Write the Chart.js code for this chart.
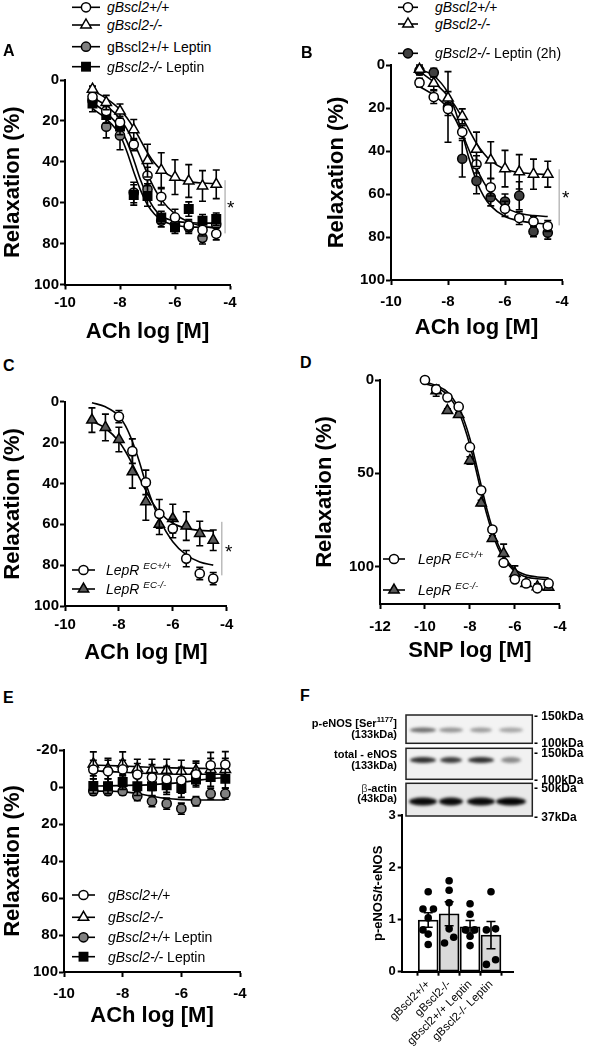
<!DOCTYPE html>
<html>
<head>
<meta charset="utf-8">
<script src="https://cdn.jsdelivr.net/npm/chart.js@4.4.1/dist/chart.umd.min.js"></script>
<style>
  body { margin: 0; width: 591px; height: 1050px; position: relative; background: #fff; overflow: hidden;
         font-family: 'Liberation Sans', Arial, sans-serif; color: #000; }
  canvas { position: absolute; }
  .t { position: absolute; white-space: nowrap; line-height: 1; transform: translateY(-50%); }
  .r { transform: translate(-100%, -50%); text-align: right; }
  .letter { font-weight: bold; font-size: 16px; }
  .star { font-size: 19px; }
  .leg { font-size: 14px; }
  .blotl { font-weight: bold; font-size: 11px; }
  .kda { font-weight: bold; font-size: 12px; }
  sup { font-size: 70%; line-height: 0; }
  svg { position: absolute; overflow: visible; }
</style>
</head>
<body>
<canvas id="chartA" width="245" height="275" style="left:0;top:70px"></canvas>
<canvas id="chartB" width="253" height="286" style="left:324px;top:55px"></canvas>
<canvas id="chartC" width="242" height="276" style="left:0;top:390px"></canvas>
<canvas id="chartD" width="263" height="294" style="left:312px;top:370px"></canvas>
<canvas id="chartE" width="255" height="289" style="left:0;top:740px"></canvas>
<canvas id="chartF" width="150" height="245" style="left:371px;top:805px"></canvas>
<canvas id="blot" width="140" height="112" style="left:400px;top:710px"></canvas>
<div id="labels"></div>

<script>
// ---- Panel A : ACh, gBscl2 +/- leptin ----
const dosesA = [-9, -8.5, -8, -7.5, -7, -6.5, -6, -5.5, -5, -4.5];
const wtA = [8.2, 15.2, 20.7, 31.6, 46.7, 57.1, 67.2, 71.2, 73.3, 75.2];
const wtErrA = [3, 3, 3, 3, 4, 4, 4, 3, 3, 3];
const koA = [4.5, 11, 15.2, 24.3, 39.4, 44.1, 47.5, 49.4, 51.8, 51];
const koErrA = [1.5, 3.5, 3.5, 5, 8, 8.5, 8.5, 8, 7.5, 7];
const wtLepA = [10, 22.8, 27.1, 55, 53.4, 68.8, 70.7, 72, 77.2, 70.7];
const wtLepErrA = [3, 5.5, 7, 5, 5, 3, 3, 3, 3, 3];
const koLepA = [11.5, 17.1, 22.8, 56.2, 56.7, 67.2, 72, 63.1, 68.8, 68];
const koLepErrA = [4, 4, 4, 5, 5, 3, 3, 3.5, 3, 3];

// fitted curves
const fitX = [-9, -8.5, -8, -7.75, -7.5, -7.25, -7, -6.75, -6.5, -6, -5.5, -5, -4.5];
const wtFitA = [8.5, 12.5, 19, 24, 30.5, 38, 46, 53, 58.5, 65.5, 69.5, 71.5, 72.5];
const koFitA = [5, 9, 14.5, 18.5, 23.5, 29.5, 35.5, 40.5, 44, 48, 49.7, 50.4, 50.7];
const wtLepFitA = [14, 19, 27, 35, 45, 54, 61, 65.5, 68.5, 71, 71.8, 72, 72];
const koLepFitA = [11, 16, 23.5, 30, 39, 49, 57, 63, 66.5, 69, 69.7, 70, 70];

// ---- Panel B : ACh, leptin 2h ----
const dosesB = [-9, -8.5, -8, -7.5, -7, -6.5, -6, -5.5, -5, -4.5];
const wtB = [8.2, 14.9, 20.5, 31.2, 46.2, 56.9, 66.9, 71.2, 72.8, 74.9];
const wtErrB = [2, 3, 3, 3, 4, 4, 3.5, 3, 2.5, 2.5];
const koB = [2, 8.5, 15.4, 23.9, 39.2, 44.2, 48.2, 49.7, 50.8, 50.8];
const koErrB = [2, 3, 3, 3.5, 8, 8.5, 8.5, 8, 7, 6];
const koLepB = [2.6, 3.5, 19.5, 43.6, 53.9, 61.5, 63.5, 60.8, 77.4, 78];
const koLepErrB = [2, 2, 16.4, 8.5, 6, 4, 3.5, 6.5, 2.5, 3];
const wtFitB = [10, 14, 20, 25, 32, 40, 48, 54.5, 59.5, 66, 69, 70, 70.5];
const koFitB = [3, 8, 14.5, 19, 24.5, 30.5, 36.5, 41, 44.5, 48.5, 50, 50.6, 51];
const koLepFitB = [2, 5, 13, 21, 32, 44, 54, 61, 65.5, 70.5, 72.5, 73.5, 74];

// ---- Panel C : ACh, LepR EC ----
const dosesC = [-9, -8.5, -8, -7.5, -7, -6.5, -6, -5.5, -5, -4.5];
const ecWtC = [null, null, 7.3, 24.2, 39.5, 54.9, 62.1, 76.8, 84.1, 86.6];
const ecWtErrC = [null, null, 3, 6, 6, 7, 4.5, 4, 3, 3];
const ecKoC = [9, 12.6, 18.5, 34.3, 49, 60, 57.2, 60.9, 64.5, 67.8];
const ecKoErrC = [6, 6.5, 6, 8, 9, 5, 7, 7, 6, 5];
const ecWtFitC = [0.5, 2.5, 7, 12, 19.5, 29, 40, 49.5, 57.5, 68.5, 75, 78.5, 80];
const ecKoFitC = [9.5, 13, 19.5, 24.5, 30.5, 37, 43.5, 49.5, 54, 59.5, 62, 63, 63.3];

// ---- Panel D : SNP, LepR EC ----
const dosesD = [-10, -9.5, -9, -8.5, -8, -7.5, -7, -6.5, -6, -5.5, -5, -4.5];
const ecWtD = [0, 5, 9.3, 14.3, 36, 59.1, 80.1, 97.9, 106.8, 109, 111.6, 109];
const ecWtErrD = [1, 1, 1, 1.5, 1.5, 1.5, 1.5, 1.5, 1.5, 1.5, 1.5, 1.5];
const ecKoD = [null, 5.7, 16.4, 18.5, 43.1, 65.9, 84.9, 92.9, 103.6, 109, 110.7, 111];
const ecKoErrD = [null, 3, 1, 1, 2, 1.5, 1.5, 5, 4, 1.5, 1.5, 1.5];
const fitXD = [-10, -9.5, -9, -8.5, -8.25, -8, -7.75, -7.5, -7.25, -7, -6.75, -6.5, -6, -5.5, -5, -4.5];
const ecWtFitD = [1, 3, 6.5, 15, 22, 31.5, 43.5, 56.5, 69, 79.5, 88, 94, 101.5, 104.5, 105.5, 106];
const ecKoFitD = [2, 4, 8, 17, 25, 35, 47, 60, 72, 82, 90, 95.5, 102.5, 105.5, 106.5, 107];

// ---- Panel E : ACh, endothelium-denuded ----
const dosesE = [-9, -8.5, -8, -7.5, -7, -6.5, -6, -5.5, -5, -4.5];
const wtE = [-9.4, -8.5, -9.5, -6.7, -5.1, -4.2, -3.6, -6.9, -11.7, -12.1];
const wtErrE = [5, 6, 5, 6, 7, 7, 7, 6, 7, 7];
const koE = [-12.5, -10, -12.5, -10, -9.5, -9, -8.5, -9, -9.5, -9.5];
const koErrE = [6.5, 5.5, 6.5, 5, 5.5, 6, 6, 5, 6, 6];
const wtLepE = [2.3, 2.3, 2.3, 4.9, 7.7, 9, 11.7, 7.7, 3.6, 3.6];
const wtLepErrE = [2, 2, 2, 2.5, 3, 3, 3, 2.5, 3, 3];
const koLepE = [-0.5, -0.4, -2.7, -0.4, -0.4, -1, 0.6, -4, -5.4, -4.5];
const koLepErrE = [4, 4, 4, 5, 5, 5, 5, 4, 5, 5];
const wtFitE = [-8.8, -8.4, -8, -7.6, -7.2, -7, -6.9, -6.9, -6.9, -6.9];
const koFitE = [-11.8, -11.6, -11.3, -11, -10.6, -10.4, -10.2, -10.1, -10, -10];
const wtLepFitE = [2.2, 2.3, 2.5, 3.5, 5, 6.2, 6.8, 7, 7, 7];
const koLepFitE = [-0.5, -0.6, -0.8, -1, -1.3, -1.8, -2.5, -3.5, -4.5, -5];

// ---- Panel F : p-eNOS / t-eNOS ----
const groupsF = ['gBscl2+/+', 'gBscl2-/-', 'gBscl2+/+ Leptin', 'gBscl2-/- Leptin'];
const meanF = [0.99, 1.11, 0.86, 0.70];
const semF = [0.14, 0.23, 0.12, 0.26];
const pointsF = [
  [1.53, 1.2, 1.2, 1.03, 0.8, 0.72, 0.52],
  [1.74, 1.56, 1.32, 0.82, 0.66, 0.55],
  [1.3, 1.1, 0.8, 0.8, 0.68, 0.5],
  [1.53, 0.8, 0.82, 0.14, 0.23]
];
const jitterF = [
  [0, -0.25, 0.25, 0, -0.25, 0, 0],
  [0, 0, 0, 0, 0.22, -0.22],
  [0, 0, -0.22, 0.22, 0, 0],
  [0, -0.22, 0.22, -0.22, 0.22]
];

const doseTicks = [-10, -8, -6, -4];
const snpTicks = [-12, -10, -8, -6, -4];
const relaxTicks = [0, 20, 40, 60, 80, 100];
const relaxTicksD = [0, 50, 100];
const relaxTicksE = [-20, 0, 20, 40, 60, 80, 100];
const ratioTicks = [0, 1, 2, 3];

Chart.defaults.font.family = "'Liberation Sans', Arial, sans-serif";
Chart.defaults.color = '#000';
Chart.defaults.animation = false;
Chart.defaults.plugins.legend.display = false;
Chart.defaults.plugins.tooltip.enabled = false;

// error bars: under the markers for scatter series, over the bars for bar series
function drawErrors(chart, index) {
  const ds = chart.data.datasets[index];
  if (!ds.errs) return;
  const {ctx, scales: {x, y}} = chart;
  const cap = ds.capHalf || 3.5;
  ctx.save();
  ctx.strokeStyle = '#000';
  ctx.lineWidth = 1.6;
  ds.data.forEach((pt, i) => {
    const e = ds.errs[i];
    if (pt.y == null || e == null) return;
    const px = x.getPixelForValue(pt.x);
    const y1 = y.getPixelForValue(pt.y - e);
    const y2 = y.getPixelForValue(pt.y + e);
    ctx.beginPath();
    ctx.moveTo(px, y1); ctx.lineTo(px, y2);
    ctx.moveTo(px - cap, y1); ctx.lineTo(px + cap, y1);
    ctx.moveTo(px - cap, y2); ctx.lineTo(px + cap, y2);
    ctx.stroke();
  });
  ctx.restore();
}
const errorBars = {
  id: 'errorBars',
  beforeDatasetDraw(chart, args) {
    if (args.meta.type !== 'bar') drawErrors(chart, args.index);
  },
  afterDatasetDraw(chart, args) {
    if (args.meta.type === 'bar') drawErrors(chart, args.index);
  }
};

// thin grey significance line
const sigLine = {
  id: 'sigLine',
  afterDatasetsDraw(chart, args, opts) {
    if (opts.x === undefined) return;
    const {ctx, scales: {x, y}} = chart;
    const px = x.getPixelForValue(opts.x);
    ctx.save();
    ctx.strokeStyle = '#999';
    ctx.lineWidth = 1;
    ctx.beginPath();
    ctx.moveTo(px, y.getPixelForValue(opts.y1));
    ctx.lineTo(px, y.getPixelForValue(opts.y2));
    ctx.stroke();
    ctx.restore();
  }
};

const STYLES = {
  open: {pointStyle: 'circle', pointRadius: 4.6, backgroundColor: '#fff'},
  tri: {pointStyle: 'triangle', pointRadius: 6, backgroundColor: '#fff'},
  grey: {pointStyle: 'circle', pointRadius: 4.6, backgroundColor: '#808080'},
  dark: {pointStyle: 'circle', pointRadius: 4.6, backgroundColor: '#404040'},
  greyTri: {pointStyle: 'triangle', pointRadius: 6, backgroundColor: '#595959'},
  square: {pointStyle: 'rect', pointRadius: 6, backgroundColor: '#000'}
};

function axisBase(min, max, ticks, size, pad) {
  return {
    type: 'linear', min, max,
    afterBuildTicks: s => { s.ticks = ticks.map(v => ({value: v})); },
    border: {display: true, color: '#000', width: 2},
    grid: {display: true, drawOnChartArea: false, tickLength: 5, tickWidth: 2, tickColor: '#000'},
    ticks: {font: {size, weight: 'bold'}, padding: pad, autoSkip: false, maxRotation: 0}
  };
}

function curvePanel(id, p) {
  const datasets = [];
  p.fits.forEach(f => datasets.push({
    data: p.fitX.map((x, i) => ({x, y: f[i]})),
    showLine: true, pointRadius: 0, borderColor: '#000', borderWidth: 1.6,
    cubicInterpolationMode: 'monotone', order: 20, clip: false
  }));
  p.series.forEach(s => datasets.push(Object.assign({
    data: p.doses.map((x, i) => ({x, y: s.y[i]})),
    errs: s.err, showLine: false, borderColor: '#000', pointBorderWidth: 1.5,
    order: s.order, clip: false
  }, STYLES[s.style])));

  const x = axisBase(p.xMin, p.xMax, p.xTicks, 15, p.xPad);
  x.afterFit = s => { s.height = p.xh; };
  x.title = {display: true, text: p.xTitle, font: {size: 22, weight: 'bold'}, padding: 0};
  const y = axisBase(p.yMin, p.yMax, p.yTicks, 15, 1);
  y.reverse = true;
  y.afterFit = s => { s.width = p.yw; };
  y.title = {display: true, text: 'Relaxation (%)', font: {size: 22, weight: 'bold'}, padding: 0};

  new Chart(document.getElementById(id), {
    type: 'scatter',
    data: {datasets},
    options: {
      responsive: false,
      layout: {padding: {top: p.padTop, right: p.padRight, left: 0, bottom: 0}},
      scales: {x, y},
      plugins: {sigLine: p.sig || {}}
    },
    plugins: [errorBars, sigLine]
  });
}

curvePanel('chartA', {
  doses: dosesA, fitX: fitX, xMin: -10, xMax: -4, xTicks: doseTicks, yMin: 0, yMax: 100, yTicks: relaxTicks,
  xTitle: 'ACh log [M]', padTop: 8, padRight: 15, yw: 65, xh: 60.5, xPad: 4.5,
  fits: [wtFitA, koFitA, wtLepFitA, koLepFitA],
  series: [
    {y: koA, err: koErrA, style: 'tri', order: 1},
    {y: wtA, err: wtErrA, style: 'open', order: 2},
    {y: koLepA, err: koLepErrA, style: 'square', order: 3},
    {y: wtLepA, err: wtLepErrA, style: 'grey', order: 4}
  ],
  sig: {x: -4.18, y1: 49, y2: 75}
});

curvePanel('chartB', {
  doses: dosesB, fitX: fitX, xMin: -10, xMax: -4, xTicks: doseTicks, yMin: 0, yMax: 100, yTicks: relaxTicks,
  xTitle: 'ACh log [M]', padTop: 8.3, padRight: 15, yw: 67, xh: 61, xPad: 7.5,
  fits: [wtFitB, koFitB, koLepFitB],
  series: [
    {y: koB, err: koErrB, style: 'tri', order: 1},
    {y: wtB, err: wtErrB, style: 'open', order: 2},
    {y: koLepB, err: koLepErrB, style: 'dark', order: 3}
  ],
  sig: {x: -4.1, y1: 48.5, y2: 74.6}
});

curvePanel('chartC', {
  doses: dosesC, fitX: fitX, xMin: -10, xMax: -4, xTicks: doseTicks, yMin: 0, yMax: 100, yTicks: relaxTicks,
  xTitle: 'ACh log [M]', padTop: 11.7, padRight: 15.3, yw: 65, xh: 60, xPad: 5,
  fits: [ecWtFitC, ecKoFitC],
  series: [
    {y: ecWtC, err: ecWtErrC, style: 'open', order: 1},
    {y: ecKoC, err: ecKoErrC, style: 'greyTri', order: 2}
  ],
  sig: {x: -4.18, y1: 58.8, y2: 85}
});

curvePanel('chartD', {
  doses: dosesD, fitX: fitXD, xMin: -12, xMax: -4, xTicks: snpTicks, yMin: 0, yMax: 120, yTicks: relaxTicksD,
  xTitle: 'SNP log [M]', padTop: 9.3, padRight: 15, yw: 68, xh: 60, xPad: 8.5,
  fits: [ecWtFitD, ecKoFitD],
  series: [
    {y: ecWtD, err: ecWtErrD, style: 'open', order: 1},
    {y: ecKoD, err: ecKoErrD, style: 'greyTri', order: 2}
  ]
});

curvePanel('chartE', {
  doses: dosesE, fitX: dosesE, xMin: -10, xMax: -4, xTicks: doseTicks, yMin: -20, yMax: 100, yTicks: relaxTicksE,
  xTitle: 'ACh log [M]', padTop: 10, padRight: 15, yw: 64, xh: 57, xPad: 7.5,
  fits: [wtFitE, koFitE, wtLepFitE, koLepFitE],
  series: [
    {y: wtE, err: wtErrE, style: 'open', order: 1},
    {y: koE, err: koErrE, style: 'tri', order: 2},
    {y: koLepE, err: koLepErrE, style: 'square', order: 3},
    {y: wtLepE, err: wtLepErrE, style: 'grey', order: 4}
  ]
});

// Panel F bar chart
(function () {
  const x = axisBase(-0.6, 3.4, [0, 1, 2, 3], 11.5, 2);
  x.afterFit = s => { s.height = 78.3; };
  x.ticks.font = {size: 11.5, weight: 'normal'};
  x.ticks.minRotation = 45;
  x.ticks.maxRotation = 45;
  x.ticks.callback = v => groupsF[v];
  x.grid.tickLength = 4;
  const y = axisBase(0, 3, ratioTicks, 13, 2);
  y.grid.tickLength = 4;
  y.afterFit = s => { s.width = 30.7; };
  y.title = {display: true, text: 'p-eNOS/t-eNOS', font: {size: 13, weight: 'bold'}, padding: 0};

  const dots = [];
  pointsF.forEach((g, k) => g.forEach((v, j) => dots.push({x: k + jitterF[k][j], y: v})));

  new Chart(document.getElementById('chartF'), {
    type: 'bar',
    data: {
      datasets: [
        {type: 'scatter', data: dots, pointRadius: 3.8, backgroundColor: '#000', borderColor: '#000',
         borderWidth: 0, order: 0, clip: false},
        {data: meanF.map((v, i) => ({x: i, y: v})), errs: semF, capHalf: 4.5, barThickness: 20,
         backgroundColor: ['#fff', '#d9d9d9', '#fff', '#d9d9d9'], borderColor: '#000', borderWidth: 1.8,
         borderSkipped: false, order: 1}
      ]
    },
    options: {
      responsive: false,
      layout: {padding: {top: 10, right: 7.7, left: 0, bottom: 0}},
      scales: {x, y}
    },
    plugins: [errorBars]
  });
})();

// western blot picture
(function () {
  const ctx = document.getElementById('blot').getContext('2d');
  const lanes = [23, 51, 81, 111];
  const boxes = [
    {y: 5, h: 28.3, bg: '#f3f3f3', cy: 20, bw: [13, 12, 11, 12], bh: 5, shades: ['#6e6e6e', '#949494', '#9c9c9c', '#a5a5a5']},
    {y: 38.3, h: 31, bg: '#f1f1f1', cy: 50, bw: [13, 11, 13, 10], bh: 6, shades: ['#2e2e2e', '#3c3c3c', '#2e2e2e', '#8a8a8a']},
    {y: 73.3, h: 32.7, bg: '#e9e9e9', cy: 91.5, bw: [14, 12, 14, 15], bh: 8, shades: ['#0a0a0a', '#0a0a0a', '#0a0a0a', '#050505']}
  ];
  boxes.forEach(b => {
    ctx.fillStyle = b.bg;
    ctx.fillRect(6, b.y, 126.3, b.h);
    ctx.save();
    ctx.beginPath(); ctx.rect(6, b.y, 126.3, b.h); ctx.clip();
    ctx.filter = 'blur(1.6px)';
    lanes.forEach((cx, i) => {
      ctx.fillStyle = b.shades[i];
      ctx.beginPath();
      ctx.ellipse(cx, b.cy, b.bw[i], b.bh / 2, 0, 0, Math.PI * 2);
      ctx.fill();
    });
    ctx.restore();
    ctx.strokeStyle = '#222';
    ctx.lineWidth = 1.5;
    ctx.strokeRect(6, b.y, 126.3, b.h);
  });
})();

// text: panel letters, legends, asterisks, blot labels
const labels = document.getElementById('labels');
function txt(html, x, y, cls) {
  const d = document.createElement('div');
  d.className = 't ' + (cls || '');
  d.style.left = x + 'px';
  d.style.top = y + 'px';
  d.innerHTML = html;
  labels.appendChild(d);
}
function markerSvg(style, x0, x1, y) {
  const s = STYLES[style];
  const cx = (x0 + x1) / 2;
  let m;
  if (s.pointStyle === 'circle') {
    m = `<circle cx="${cx}" cy="${y}" r="4.6" fill="${s.backgroundColor}" stroke="#000" stroke-width="1.5"/>`;
  } else if (s.pointStyle === 'triangle') {
    const r = 6;
    m = `<polygon points="${cx},${y - r} ${cx + r * 0.866},${y + r / 2} ${cx - r * 0.866},${y + r / 2}" fill="${s.backgroundColor}" stroke="#000" stroke-width="1.5"/>`;
  } else {
    m = `<rect x="${cx - 4.2}" y="${y - 4.2}" width="8.4" height="8.4" fill="#000" stroke="#000" stroke-width="1.5"/>`;
  }
  return `<line x1="${x0}" y1="${y}" x2="${x1}" y2="${y}" stroke="#000" stroke-width="1.6"/>` + m;
}
let svg = '';
function legend(x0, x1, textX, rows) {
  rows.forEach(r => {
    svg += markerSvg(r.style, x0, x1, r.y);
    txt(r.label, textX, r.y, 'leg' + (r.cls ? ' ' + r.cls : ''));
  });
}

legend(72, 100, 107, [
  {style: 'open', y: 7.3, label: '<i>gBscl2+/+</i>'},
  {style: 'tri', y: 25, label: '<i>gBscl2-/-</i>'},
  {style: 'grey', y: 46.7, label: 'gBscl2+/+ Leptin'},
  {style: 'square', y: 66.7, label: '<i>gBscl2-/-</i> Leptin'}
]);
legend(398, 418, 435, [
  {style: 'open', y: 7.3, label: '<i>gBscl2+/+</i>'},
  {style: 'tri', y: 24, label: '<i>gBscl2-/-</i>'},
  {style: 'dark', y: 53.3, label: '<i>gBscl2-/-</i> Leptin (2h)'}
]);
legend(72, 95, 106, [
  {style: 'open', y: 570, label: '<i>LepR <sup>EC+/+</sup></i>'},
  {style: 'greyTri', y: 589, label: '<i>LepR <sup>EC-/-</sup></i>'}
]);
legend(383, 405, 418, [
  {style: 'open', y: 559, label: '<i>LepR <sup>EC+/+</sup></i>'},
  {style: 'greyTri', y: 590, label: '<i>LepR <sup>EC-/-</sup></i>'}
]);
legend(72, 95, 108, [
  {style: 'open', y: 895, label: '<i>gBscl2+/+</i>'},
  {style: 'tri', y: 917.3, label: '<i>gBscl2-/-</i>'},
  {style: 'grey', y: 937.3, label: '<i>gBscl2+/+</i> Leptin'},
  {style: 'square', y: 956.7, label: '<i>gBscl2-/-</i> Leptin'}
]);
const svgEl = document.createElementNS('http://www.w3.org/2000/svg', 'svg');
svgEl.setAttribute('width', '591');
svgEl.setAttribute('height', '1050');
svgEl.style.left = '0';
svgEl.style.top = '0';
svgEl.innerHTML = svg;
document.body.appendChild(svgEl);

txt('A', 3, 51, 'letter');
txt('B', 301, 53, 'letter');
txt('C', 3, 366, 'letter');
txt('D', 300, 363, 'letter');
txt('E', 3, 698, 'letter');
txt('F', 300, 696, 'letter');

txt('*', 227, 207, 'star');
txt('*', 562, 197, 'star');
txt('*', 225, 551, 'star');

txt('p-eNOS [Ser<sup>1177</sup>]', 397, 723, 'r blotl');
txt('(133kDa)', 397, 734, 'r blotl');
txt('total - eNOS', 397, 754, 'r blotl');
txt('(133kDa)', 397, 764.5, 'r blotl');
txt('<span style="font-weight:normal;color:#444">&beta;</span>-actin', 397, 787.5, 'r blotl');
txt('(43kDa)', 397, 798, 'r blotl');

txt('- 150kDa', 534, 716, 'kda');
txt('- 100kDa', 534, 743, 'kda');
txt('- 150kDa', 534, 752.5, 'kda');
txt('- 100kDa', 534, 779.5, 'kda');
txt('- 50kDa', 534, 787.5, 'kda');
txt('- 37kDa', 534, 817, 'kda');
</script>
</body>
</html>
